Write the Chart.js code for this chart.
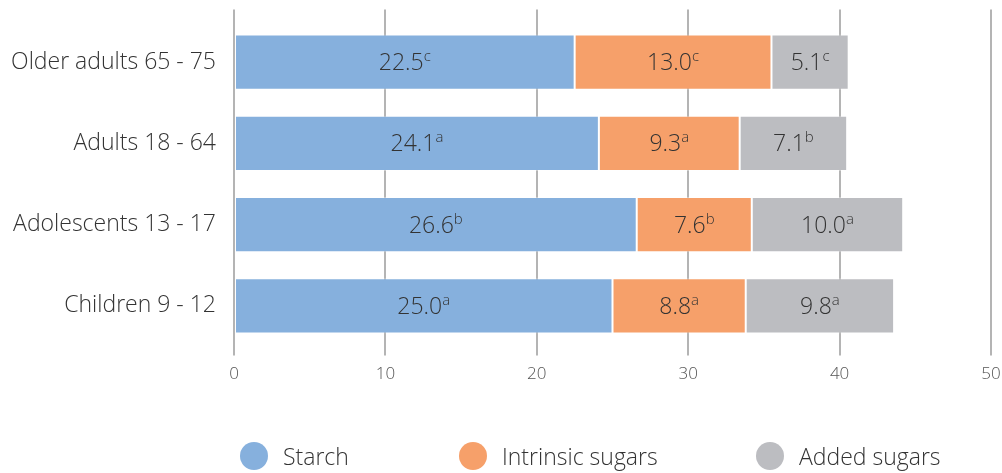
<!DOCTYPE html>
<html>
<head>
<meta charset="utf-8">
<script src="https://cdn.jsdelivr.net/npm/chart.js@4.4.1/dist/chart.umd.min.js"></script>
<style>
  html, body { margin: 0; padding: 0; background: #fff; }
  #wrap { position: relative; width: 1002px; height: 473px; }
  canvas { position: absolute; left: 0; top: 0; }
  .lg { position: absolute; top: 441px; height: 30px; display: flex; align-items: center;
        font-family: "Open Sans", sans-serif; font-weight: 300; font-size: 23px; color: #333; white-space: nowrap; }
  .lg .dot { width: 28px; height: 28px; border-radius: 50%; margin-right: 15px; }
</style>
</head>
<body>
<div id="wrap">
  <canvas id="c" width="1002" height="473"></canvas>
</div>
<script>
const categories = ["Older adults 65 - 75", "Adults 18 - 64", "Adolescents 13 - 17", "Children 9 - 12"];
const seriesNames = ["Starch", "Intrinsic sugars", "Added sugars"];
const starch = [22.5, 24.1, 26.6, 25.0];
const intrinsic = [13.0, 9.3, 7.6, 8.8];
const added = [5.1, 7.1, 10.0, 9.8];
const starchSig = ["c", "a", "b", "a"];
const intrinsicSig = ["c", "a", "b", "a"];
const addedSig = ["c", "b", "a", "a"];
const xTicks = [0, 10, 20, 30, 40, 50];

const colors = ["#86b0dd", "#f6a06a", "#bcbdc1"];
const FONT = "'Open Sans', sans-serif";

const valueLabels = {
  id: 'valueLabels',
  afterDatasetsDraw(chart) {
    const ctx = chart.ctx;
    ctx.save();
    ctx.textBaseline = 'alphabetic';
    chart.data.datasets.forEach((ds, di) => {
      const meta = chart.getDatasetMeta(di);
      meta.data.forEach((el, i) => {
        const main = ds.data[i].toFixed(1);
        const sup = ds.sig[i];
        const cx = (el.x + el.base) / 2;
        const cy = el.y;
        ctx.font = "300 23px " + FONT;
        const wm = ctx.measureText(main).width;
        ctx.font = "300 15px " + FONT;
        const ws = ctx.measureText(sup).width;
        const start = cx - (wm + ws) / 2;
        ctx.fillStyle = '#333';
        ctx.font = "300 23px " + FONT;
        ctx.textAlign = 'left';
        ctx.fillText(main, start, cy + 8);
        ctx.font = "300 15px " + FONT;
        ctx.fillText(sup, start + wm, cy - 1);
      });
    });
    ctx.restore();
  }
};

const seriesValues = [starch, intrinsic, added];
const seriesSig = [starchSig, intrinsicSig, addedSig];

new Chart(document.getElementById('c'), {
  type: 'bar',
  data: {
    labels: categories,
    datasets: seriesNames.map((n, k) => ({
      label: n,
      data: seriesValues[k],
      sig: seriesSig[k],
      backgroundColor: colors[k],
      borderColor: 'rgba(255,255,255,0.35)',
      borderWidth: 1,
      borderSkipped: false,
      barPercentage: 0.68,
      categoryPercentage: 1.0,
      xAxisID: 'x'
    }))
  },
  options: {
    indexAxis: 'y',
    responsive: false,
    animation: false,
    devicePixelRatio: 1,
    layout: { padding: { left: 0, right: 11, top: 0, bottom: 0 } },
    plugins: { legend: { display: false }, tooltip: { enabled: false } },
    scales: {
      x: {
        type: 'linear', position: 'bottom', stacked: true, min: 0, max: 50,
        afterBuildTicks(s) { s.ticks = xTicks.map(v => ({ value: v })); },
        afterFit(s) { s.height = 126.5; s.paddingLeft = 0; s.paddingRight = 0; },
        grid: { color: '#b4b4b4', lineWidth: 2, drawTicks: true, tickLength: 9, tickColor: '#b4b4b4' },
        border: { display: false },
        ticks: { color: '#555', padding: 8, font: { family: FONT, size: 17, weight: 300 } }
      },
      x2: {
        type: 'linear', position: 'top', min: 0, max: 50,
        afterBuildTicks(s) { s.ticks = xTicks.map(v => ({ value: v })); },
        afterFit(s) { s.height = 21.5; s.paddingLeft = 0; s.paddingRight = 0; },
        grid: { drawOnChartArea: false, drawTicks: true, tickLength: 12, tickColor: '#b4b4b4', lineWidth: 2 },
        border: { display: false },
        ticks: { display: false }
      },
      y: {
        stacked: true,
        afterFit(s) { s.width = 234; s.paddingTop = 0; s.paddingBottom = 0; },
        grid: { display: false },
        border: { display: false },
        ticks: { color: '#333', padding: 10, font: { family: FONT, size: 23, weight: 300 } }
      }
    }
  },
  plugins: [valueLabels]
});

// HTML legend
const legendLeft = [240, 459, 756];
const wrap = document.getElementById('wrap');
seriesNames.forEach((n, k) => {
  const d = document.createElement('div');
  d.className = 'lg';
  d.style.left = legendLeft[k] + 'px';
  const dot = document.createElement('span');
  dot.className = 'dot';
  dot.style.background = colors[k];
  const t = document.createElement('span');
  t.textContent = n;
  d.appendChild(dot); d.appendChild(t);
  wrap.appendChild(d);
});
</script>
</body>
</html>
